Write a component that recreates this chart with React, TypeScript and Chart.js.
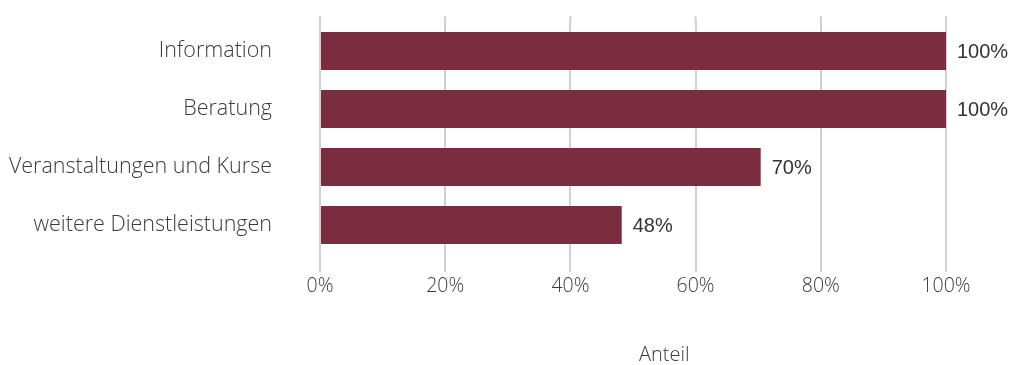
import React, { useEffect, useRef } from 'react';
import { Chart, registerables } from 'chart.js';

Chart.register(...registerables);

const categories = ['Information', 'Beratung', 'Veranstaltungen und Kurse', 'weitere Dienstleistungen'];
const shares = [100, 100, 70.4, 48.2];
const xTickLabels = ['0%', '20%', '40%', '60%', '80%', '100%'];
const axisTitle = 'Anteil';

const BAR_COLOR = '#7a2d3f';
const GRID_COLOR = '#d0d0d3';
const TEXT_COLOR = '#3a3a3a';
const LIGHT_FONT = "'Open Sans', sans-serif";

const valueLabels = {
  id: 'valueLabels',
  afterDatasetsDraw(chart: any) {
    const ctx = chart.ctx;
    const meta = chart.getDatasetMeta(0);
    ctx.save();
    ctx.font = "20px 'Liberation Sans', Arial, sans-serif";
    ctx.fillStyle = '#333333';
    ctx.textAlign = 'left';
    ctx.textBaseline = 'middle';
    meta.data.forEach((bar: any, i: number) => {
      ctx.fillText(`${Math.round(shares[i])}%`, bar.x + 11, bar.y + 1);
    });
    ctx.restore();
  },
};

const gridTop = {
  id: 'gridTop',
  beforeDatasetsDraw(chart: any) {
    const ctx = chart.ctx;
    const xs = chart.scales.x;
    const top = chart.chartArea.top;
    ctx.save();
    ctx.strokeStyle = GRID_COLOR;
    ctx.lineWidth = 2;
    xs.ticks.forEach((t: any) => {
      const px = xs.getPixelForValue(t.value);
      ctx.beginPath();
      ctx.moveTo(px, top - 6);
      ctx.lineTo(px, top);
      ctx.stroke();
    });
    ctx.restore();
  },
};

const axisTitlePlugin = {
  id: 'axisTitlePlugin',
  afterDraw(chart: any) {
    const ctx = chart.ctx;
    const xs = chart.scales.x;
    ctx.save();
    ctx.font = `300 20px ${LIGHT_FONT}`;
    ctx.fillStyle = TEXT_COLOR;
    ctx.textAlign = 'center';
    ctx.textBaseline = 'middle';
    ctx.fillText(axisTitle, xs.getPixelForValue(55), 355);
    ctx.restore();
  },
};

export default function App() {
  const ref = useRef<HTMLCanvasElement | null>(null);
  useEffect(() => {
    if (!ref.current) return;
    const chart = new Chart(ref.current, {
      type: 'bar',
      data: {
        labels: categories,
        datasets: [
          {
            data: shares,
            backgroundColor: BAR_COLOR,
            borderWidth: 0,
            barPercentage: 0.655,
            categoryPercentage: 1,
          },
        ],
      },
      options: {
        indexAxis: 'y',
        animation: false,
        responsive: true,
        maintainAspectRatio: false,
        layout: { padding: { top: 22, right: 67, left: 0, bottom: 0 } },
        plugins: { legend: { display: false }, tooltip: { enabled: false } },
        scales: {
          x: {
            min: 0,
            max: 100,
            afterFit: (s: any) => {
              s.height = 111;
              s.paddingLeft = 0;
              s.paddingRight = 0;
            },
            ticks: {
              stepSize: 20,
              padding: 3,
              color: TEXT_COLOR,
              font: { family: LIGHT_FONT, size: 19.5, weight: '300' as any },
              callback: (_v: any, i: number) => xTickLabels[i],
            },
            grid: {
              color: GRID_COLOR,
              lineWidth: 2,
              tickLength: 18,
              tickColor: GRID_COLOR,
              drawTicks: true,
            },
            border: { display: false },
          },
          y: {
            afterFit: (s: any) => {
              s.width = 320;
              s.paddingTop = 0;
              s.paddingBottom = 0;
            },
            ticks: {
              padding: 0,
              color: TEXT_COLOR,
              font: { family: LIGHT_FONT, size: 21.5, weight: '300' as any },
            },
            grid: { display: false, drawTicks: true, tickLength: 48 },
            border: { display: false },
          },
        },
      },
      plugins: [gridTop, valueLabels, axisTitlePlugin],
    });
    return () => chart.destroy();
  }, []);
  return (
    <div style={{ position: 'absolute', left: 0, top: 0, width: 1013, height: 365 }}>
      <canvas ref={ref} />
    </div>
  );
}
